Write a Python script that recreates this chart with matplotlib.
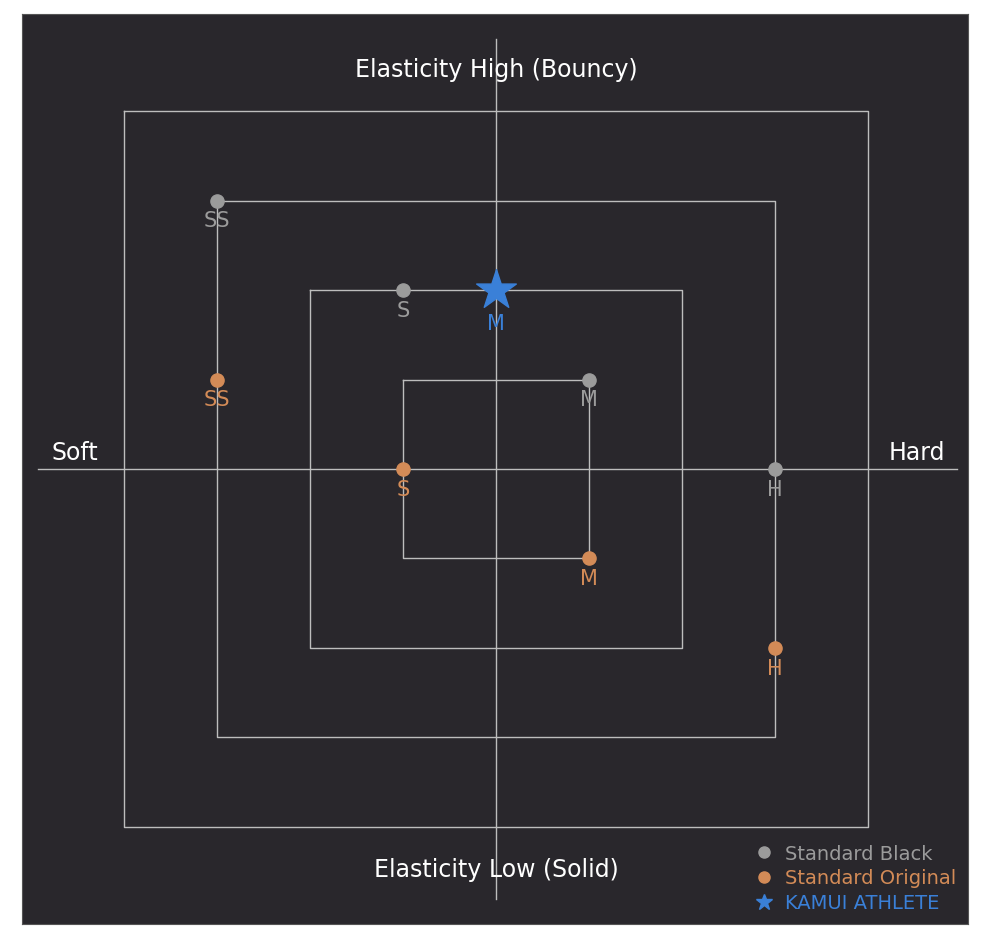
import matplotlib.pyplot as plt
from matplotlib.lines import Line2D

# Data
sizes = ['SS', 'S', 'M', 'H']
black_x = [-3, -1, 1, 3]
black_y = [3, 2, 1, 0]
orange_x = [-3, -1, 1, 3]
orange_y = [1, 0, -1, -2]
kamui_label = 'M'
kamui_x, kamui_y = 0, 2
square_half = [1, 2, 3, 4]

bg = '#29272c'
gray = '#9b9b9b'
orange = '#d38b57'
blue = '#3a80d8'
line_c = '#bdbdbd'

fig = plt.figure(figsize=(10, 9.45), dpi=100)
fig.patch.set_facecolor('white')
ax = fig.add_axes([0.022, 20 / 945, 0.946, 910 / 945])
ax.set_facecolor(bg)
ax.set_xlim(-5.097, 5.075)
ax.set_ylim(-5.084, 5.084)
for s in ax.spines.values():
    s.set_color('#555555')
ax.set_xticks([])
ax.set_yticks([])

for h in square_half:
    ax.plot([-h, h, h, -h, -h], [h, h, -h, -h, h], color=line_c, lw=1, zorder=1)
ax.plot([-4.93, 4.96], [0, 0], color=line_c, lw=1, zorder=1)
ax.plot([0, 0], [-4.8, 4.8], color=line_c, lw=1, zorder=1)

ax.scatter(black_x, black_y, s=90, color=gray, zorder=3)
ax.scatter(orange_x, orange_y, s=90, color=orange, zorder=3)
ax.scatter([kamui_x], [kamui_y], s=900, marker='*', color=blue, zorder=4)
for x, y, t in zip(black_x, black_y, sizes):
    ax.text(x, y - 0.22, t, color=gray, ha='center', va='center', fontsize=15)
for x, y, t in zip(orange_x, orange_y, sizes):
    ax.text(x, y - 0.22, t, color=orange, ha='center', va='center', fontsize=15)
ax.text(kamui_x, kamui_y - 0.37, kamui_label, color=blue, ha='center', va='center', fontsize=15)

ax.text(0, 4.47, 'Elasticity High (Bouncy)', color='white', ha='center', va='center', fontsize=17)
ax.text(0, -4.47, 'Elasticity Low (Solid)', color='white', ha='center', va='center', fontsize=17)
ax.text(-4.53, 0.19, 'Soft', color='white', ha='center', va='center', fontsize=17)
ax.text(4.52, 0.19, 'Hard', color='white', ha='center', va='center', fontsize=17)

handles = [
    Line2D([], [], marker='o', ls='', color=gray, markersize=8, label='Standard Black'),
    Line2D([], [], marker='o', ls='', color=orange, markersize=8, label='Standard Original'),
    Line2D([], [], marker='*', ls='', color=blue, markersize=12, label='KAMUI ATHLETE'),
]
leg = ax.legend(handles=handles, loc='lower right', frameon=False, fontsize=14,
                handletextpad=0.1, borderaxespad=0.2, labelspacing=0.3)
for t, c in zip(leg.get_texts(), [gray, orange, blue]):
    t.set_color(c)

fig.savefig('out.png', dpi=100, facecolor='white')
